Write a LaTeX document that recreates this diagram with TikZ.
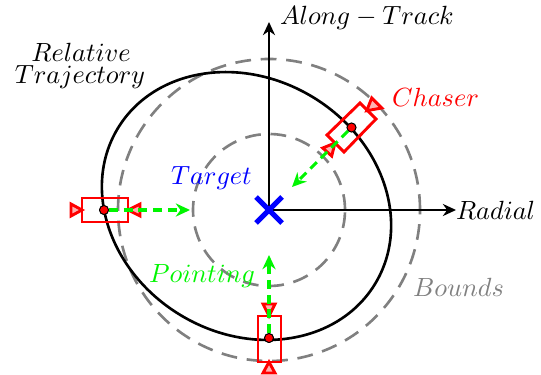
\documentclass[tikz,border=0pt]{standalone}
\usetikzlibrary{arrows.meta}
\definecolor{pt}{RGB}{0,245,0}
\tikzset{
  axisline/.style={black,line width=1pt,-{Stealth[length=5pt,width=4.6pt]}},
  boundline/.style={gray,line width=1pt,dash pattern=on 6pt off 3.7pt},
  trajline/.style={black,line width=1pt},
  body/.style={red,line width=1.1pt},
  thruster/.style={red,line width=1.1pt,fill=red!30,line join=miter},
  pointline/.style={pt,line width=1.2pt,dash pattern=on 3.4pt off 2.2pt,-{Stealth[length=5.4pt,width=5pt]}},
  dotmark/.style={circle,draw=black,fill=red,line width=0.35pt,inner sep=0pt,minimum size=3.4pt},
  lbl/.style={inner sep=0pt,outer sep=0pt}
}
\begin{document}
\begin{tikzpicture}[x=0.38pt,y=-0.38pt]
\useasboundingbox (0,0) rectangle (541,374);
\coordinate (o) at (269,210);
\coordinate (ytip) at (269,22);
\coordinate (xtip) at (456,210);
% bounds
\draw[boundline] (o) circle [radius=151*0.38pt];
\draw[boundline] (o) circle [radius=76*0.38pt];
% trajectory
\draw[trajline] (246.5,206) ellipse [x radius=150.3*0.38pt,y radius=127.5*0.38pt,rotate=-31];
% axes
\draw[axisline] (o) -- (ytip);
\draw[axisline] (o) -- (xtip);
% target
\draw[blue,line width=2pt] (256,197) -- (282,223) (256,223) -- (282,197);
% spacecraft dots
\node[dotmark] (dA) at (351.5,127.5) {};
\node[dotmark] (dB) at (104,210) {};
\node[dotmark] (dC) at (269,338) {};
% aim points
\coordinate (aA) at (292,187);
\coordinate (aB) at (190,210);
\coordinate (aC) at (269,255);
% chaser 1
\draw[body] (360,103) -- (376,119) -- (344,152) -- (327,135) -- cycle;
\draw[thruster] (366.7,110.7) -- (371.7,98) -- (381.7,108) -- cycle;
\draw[thruster] (335,143) -- (322.7,148) -- (331.7,156) -- cycle;
% chaser 2
\draw[body] (82,198) rectangle (128,222);
\draw[thruster] (82,210) -- (71,204) -- (71,216) -- cycle;
\draw[thruster] (128,210) -- (140,204) -- (140,216) -- cycle;
% chaser 3
\draw[body] (258,316) rectangle (281,362);
\draw[thruster] (269,316) -- (263,304) -- (275,304) -- cycle;
\draw[thruster] (269,362) -- (263,373) -- (275,373) -- cycle;
% pointing
\draw[pointline] (dA) -- (aA);
\draw[pointline] (dB) -- (aB);
\draw[pointline] (dC) -- (aC);
\node[dotmark] at (dA) {};
\node[dotmark] at (dB) {};
\node[dotmark] at (dC) {};
% labels
\node[lbl,anchor=west] (lAT) at (280,18) {$Along-Track$};
\node[lbl,anchor=west] (lR) at (456,210) {$Radial$};
\node[lbl] (lT1) at (81,52.5) {$Relative$};
\node[lbl] (lT2) at (80,77) {$Trajectory$};
\node[lbl,anchor=west,text=red] (lC) at (392,97.5) {$Chaser$};
\node[lbl,anchor=west,text=blue] (lTg) at (171,178.5) {$Target$};
\node[lbl,anchor=west,text=pt] (lP) at (149,276) {$Pointing$};
\node[lbl,anchor=west,text=gray] (lB) at (413,287) {$Bounds$};
\end{tikzpicture}
\end{document}
